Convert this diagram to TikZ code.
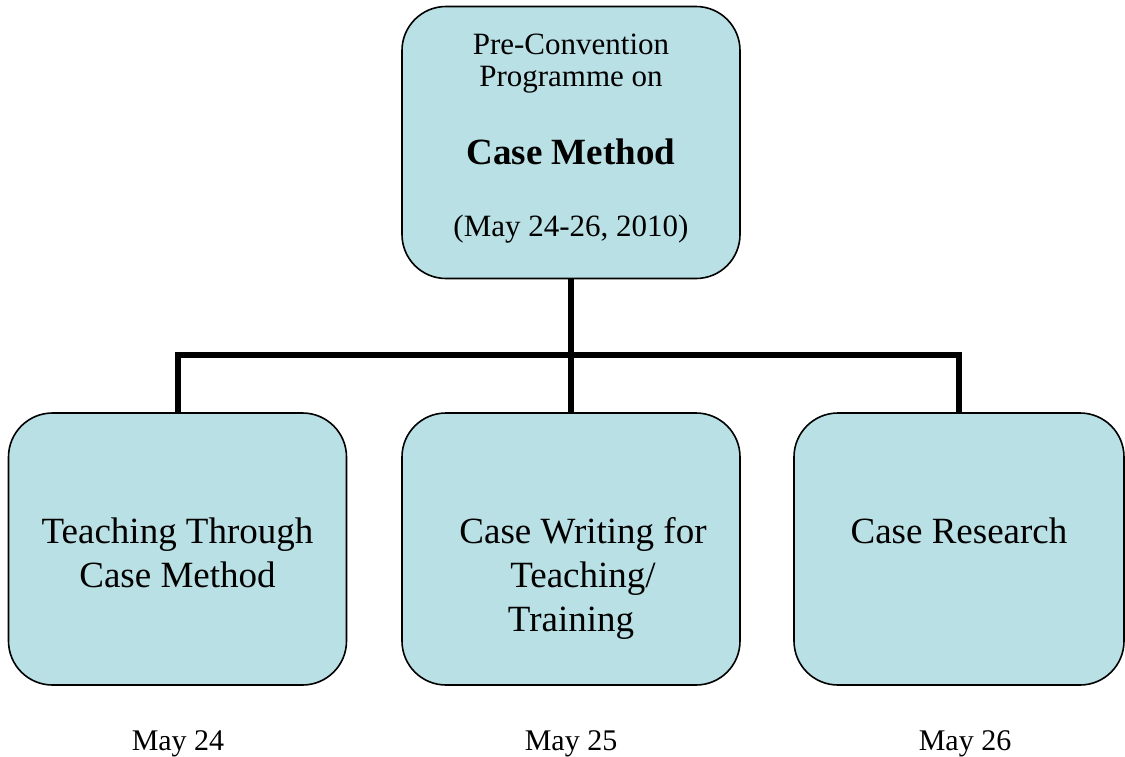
\documentclass[tikz,border=0pt]{standalone}
\usepackage{fontspec}
\setmainfont{Liberation Serif}
\usetikzlibrary{positioning}
\definecolor{boxfill}{RGB}{185,224,228}
\tikzset{
  box/.style={draw=black, line width=0.8pt, fill=boxfill, rounded corners=22pt,
    minimum width=169pt, minimum height=136pt, inner sep=0pt},
  boxtext/.style={align=center, anchor=base, font=\fontsize{18.5}{22}\selectfont},
  datetext/.style={anchor=base, font=\fontsize{15}{18}\selectfont},
  conn/.style={line width=3pt}
}
\begin{document}
\begin{tikzpicture}[x=0.5pt, y=-0.5pt]
\useasboundingbox (0,0) rectangle (1125,756);
% top box
\node[box] (top) at (571,142.5) {};
\node[anchor=base, align=center, font=\fontsize{15.5}{16}\selectfont] (toptxt) at (571,236)
  {Pre-Convention\\Programme on\\[21.5pt]{\fontsize{18.5}{20}\selectfont\bfseries Case Method}\\[20pt](May 24-26, 2010)};
% three sessions
\node[box] (left) at (177.5,549) {};
\node[box] (mid) at (571,549) {};
\node[box, minimum width=165pt] (right) at (959,549) {};
\node[boxtext] (lefttxt) at (177.5,587) {Teaching Through\\Case Method};
\node[boxtext] (midtxt) at (583,631) {Case Writing for\\Teaching/\\Training\hspace*{12pt}};
\node[boxtext] (righttxt) at (959,543) {Case Research};
% dates
\node[datetext] (d1) at (178,750) {May 24};
\node[datetext] (d2) at (571,750) {May 25};
\node[datetext] (d3) at (965,750) {May 26};
% connectors
\coordinate (hub) at (571,355);
\draw[conn] (top) -- (hub);
\draw[conn] (left.north) |- (hub) -| (right.north);
\draw[conn] (hub) -- (mid);
\end{tikzpicture}
\end{document}
